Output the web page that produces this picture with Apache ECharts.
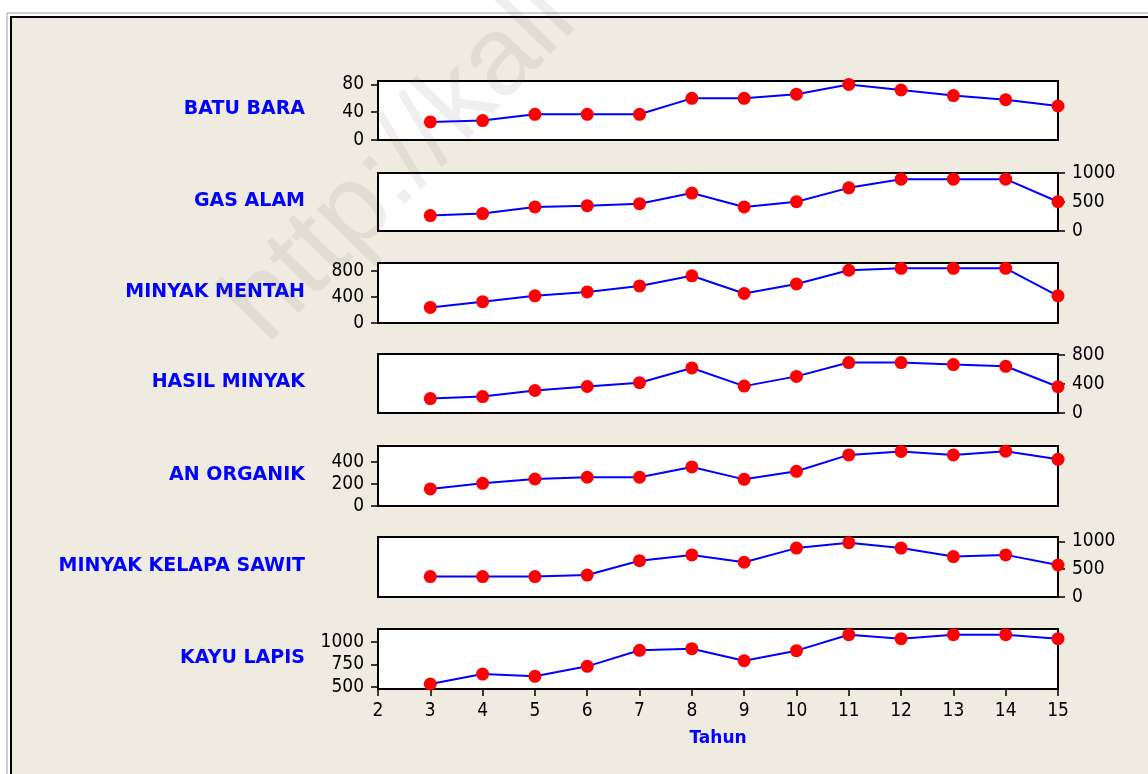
<!DOCTYPE html>
<html>
<head>
<meta charset="utf-8">
<script src="https://cdn.jsdelivr.net/npm/echarts@6/dist/echarts.min.js"></script>
<style>
  html, body { margin: 0; padding: 0; background: #fff; }
  #main { width: 1148px; height: 774px; }
</style>
</head>
<body>
<div id="main"></div>
<script>
// data (tahun ke-3 s/d ke-15)
var tahun = [3, 4, 5, 6, 7, 8, 9, 10, 11, 12, 13, 14, 15];
var xTicks = [2, 3, 4, 5, 6, 7, 8, 9, 10, 11, 12, 13, 14, 15];

var batuBara    = [26, 28, 37, 37, 37, 60, 60, 66, 80, 72, 64, 58, 49];
var gasAlam     = [266, 300, 415, 437, 471, 654, 415, 505, 744, 893, 893, 893, 505];
var minyakMentah = [238, 326, 416, 476, 567, 722, 451, 597, 807, 837, 837, 837, 416];
var hasilMinyak = [199, 226, 310, 365, 417, 620, 370, 504, 694, 694, 667, 643, 361];
var anOrganik   = [155, 206, 245, 261, 261, 355, 242, 315, 464, 496, 464, 498, 424];
var kelapaSawit = [368, 368, 368, 395, 654, 758, 625, 880, 978, 880, 727, 758, 576];
var kayuLapis   = [533, 643, 618, 728, 905, 923, 790, 901, 1077, 1033, 1077, 1077, 1033];

var namaPanel = ['BATU BARA', 'GAS ALAM', 'MINYAK MENTAH', 'HASIL MINYAK', 'AN ORGANIK', 'MINYAK KELAPA SAWIT', 'KAYU LAPIS'];
var nilaiPanel = [batuBara, gasAlam, minyakMentah, hasilMinyak, anOrganik, kelapaSawit, kayuLapis];
var yTicks = [
  [0, 40, 80],
  [0, 500, 1000],
  [0, 400, 800],
  [0, 400, 800],
  [0, 200, 400],
  [0, 500, 1000],
  [500, 750, 1000]
];

// tata letak panel
var bg = '#EFEBE1';
var tops = [81, 173, 263, 354, 446, 537, 629];
var heights = [59, 58, 60, 59, 60, 60, 60];
var yMin = [0, 0, 0, 0, 0, 0, 478];
var yMax = [85, 1000, 918, 812, 545, 1080, 1140];
var numFont = '"DejaVu Sans Condensed", "Liberation Sans Narrow", "DejaVu Sans", sans-serif';
var labelFont = '"DejaVu Sans", Verdana, sans-serif';
var plain = function (v) { return String(v); };

var chart = echarts.init(document.getElementById('main'));

var grids = [], xAxes = [], yAxes = [], series = [];
var graphics = [
  { type: 'rect', shape: { x: 7, y: 13, width: 1300, height: 900 }, style: { fill: '#fff', stroke: '#a0a0a0', lineWidth: 1 }, z: -10, silent: true },
  { type: 'rect', shape: { x: 11, y: 17, width: 1300, height: 900 }, style: { fill: bg, stroke: '#000', lineWidth: 2 }, z: -9, silent: true }
];

namaPanel.forEach(function (nama, i) {
  var last = i === namaPanel.length - 1;
  grids.push({
    left: 378, width: 680, top: tops[i], height: heights[i],
    show: true, backgroundColor: '#fff', borderColor: '#000', borderWidth: 2
  });
  xAxes.push({
    type: 'value', gridIndex: i, min: 2, max: 15, interval: 1,
    axisLine: { show: true, lineStyle: { color: '#000', width: 2 } },
    axisTick: { show: last, length: 7, lineStyle: { color: '#000', width: 1.5 }, customValues: xTicks },
    axisLabel: { show: last, margin: 13, color: '#000', fontSize: 19, fontFamily: numFont, customValues: xTicks, formatter: plain },
    splitLine: { show: false },
    name: last ? 'Tahun' : '',
    nameLocation: 'middle', nameGap: 41,
    nameTextStyle: { color: '#0000FF', fontWeight: 'bold', fontSize: 17, fontFamily: labelFont }
  });
  yAxes.push({
    type: 'value', gridIndex: i, min: yMin[i], max: yMax[i],
    position: i % 2 === 0 ? 'left' : 'right',
    axisLine: { show: true, lineStyle: { color: '#000', width: 2 } },
    axisTick: { show: true, length: 7, lineStyle: { color: '#000', width: 1.5 }, customValues: yTicks[i] },
    axisLabel: { margin: 14, color: '#000', fontSize: 19, fontFamily: numFont, customValues: yTicks[i], formatter: plain },
    splitLine: { show: false }
  });
  series.push({
    type: 'line', xAxisIndex: i, yAxisIndex: i,
    data: tahun.map(function (t, k) { return [t, nilaiPanel[i][k]]; }),
    symbol: 'circle', symbolSize: 13,
    lineStyle: { color: '#0000FF', width: 2 },
    itemStyle: { color: '#FF0000' },
    animation: false
  });
  graphics.push({
    type: 'text', x: 305, y: tops[i] + heights[i] / 2 - 1,
    style: {
      text: nama, fill: '#0000FF', font: 'bold 19px ' + labelFont,
      textAlign: 'right', textVerticalAlign: 'middle'
    }
  });
});

// watermark samar
graphics.push({
  type: 'text', x: 205, y: 285, rotation: 0.8, z: 100, silent: true,
  style: {
    text: 'http://kali', fill: 'rgba(110,100,80,0.1)',
    font: '112px "Liberation Sans", Arial, sans-serif', textVerticalAlign: 'alphabetic'
  }
});

chart.setOption({
  backgroundColor: '#fff',
  animation: false,
  grid: grids,
  xAxis: xAxes,
  yAxis: yAxes,
  series: series,
  graphic: graphics
});
</script>
</body>
</html>
